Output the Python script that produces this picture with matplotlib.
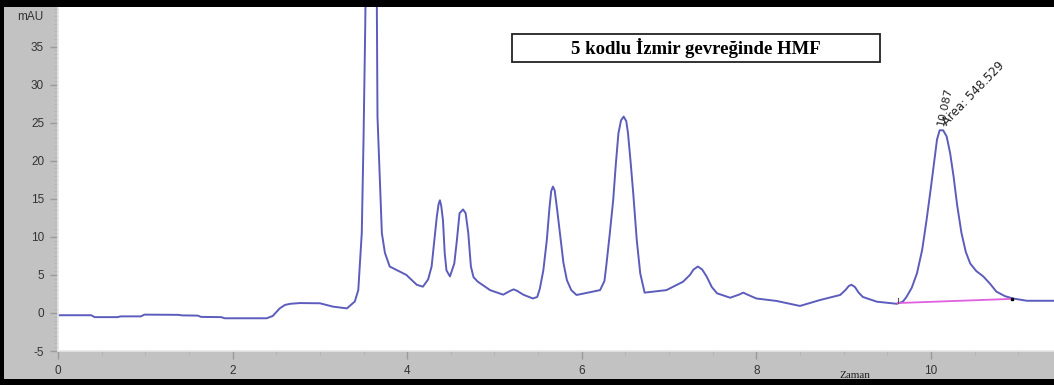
import matplotlib
matplotlib.use('Agg')
import matplotlib.pyplot as plt
from matplotlib.patches import Rectangle
from matplotlib.ticker import MultipleLocator

plt.rcParams['axes.unicode_minus'] = False

# chromatogram trace (time in min, signal in mAU)
zaman = [0.00, 0.38, 0.42, 0.68, 0.72, 0.95, 0.99, 1.38, 1.42, 1.60, 1.64, 1.87, 1.91,
         2.39, 2.46, 2.54, 2.60, 2.66, 2.77, 3.00, 3.15, 3.31, 3.40, 3.44, 3.48, 3.50,
         3.52, 3.54, 3.60, 3.645, 3.66, 3.71, 3.745, 3.80, 3.99, 4.11, 4.18, 4.24, 4.28,
         4.32, 4.34, 4.36, 4.375, 4.39, 4.41, 4.43, 4.45, 4.49, 4.54, 4.57, 4.60, 4.64,
         4.67, 4.70, 4.73, 4.76, 4.81, 4.95, 5.10, 5.18, 5.22, 5.26, 5.33, 5.44, 5.49,
         5.52, 5.56, 5.60, 5.63, 5.65, 5.67, 5.69, 5.72, 5.75, 5.79, 5.83, 5.88, 5.94,
         6.21, 6.26, 6.28, 6.32, 6.36, 6.39, 6.42, 6.45, 6.48, 6.51, 6.53, 6.56, 6.59,
         6.63, 6.67, 6.72, 6.97, 7.16, 7.24, 7.28, 7.33, 7.38, 7.43, 7.49, 7.55, 7.70,
         7.80, 7.85, 7.90, 8.00, 8.23, 8.50, 8.73, 8.96, 9.02, 9.06, 9.09, 9.13, 9.17,
         9.22, 9.38, 9.61, 9.68, 9.72, 9.78, 9.84, 9.90, 9.95, 10.00, 10.03, 10.07,
         10.10, 10.14, 10.18, 10.22, 10.26, 10.30, 10.35, 10.40, 10.45, 10.52, 10.60,
         10.68, 10.75, 10.85, 10.94, 11.10, 11.42]
mau = [-0.30, -0.30, -0.55, -0.55, -0.45, -0.45, -0.22, -0.25, -0.32, -0.35, -0.52, -0.55, -0.70,
       -0.70, -0.40, 0.60, 1.05, 1.20, 1.30, 1.27, 0.83, 0.60, 1.50, 3.0, 10.5, 22.7,
       38.0, 60.0, 70.0, 55.0, 25.8, 10.5, 7.9, 6.1, 5.0, 3.7, 3.45, 4.4, 6.1,
       10.5, 12.7, 14.3, 14.8, 14.1, 12.2, 7.9, 5.6, 4.8, 6.5, 9.6, 13.1, 13.6,
       13.1, 10.5, 6.1, 4.7, 4.1, 3.0, 2.4, 2.9, 3.1, 2.9, 2.4, 1.9, 2.1,
       3.2, 5.6, 9.6, 13.8, 16.0, 16.6, 16.1, 13.4, 10.5, 6.6, 4.3, 3.0, 2.36,
       3.0, 4.2, 6.1, 10.3, 14.8, 19.5, 23.6, 25.3, 25.8, 25.2, 23.6, 19.8, 15.7,
       9.6, 5.2, 2.67, 3.0, 4.1, 5.0, 5.7, 6.1, 5.7, 4.8, 3.4, 2.58, 2.0,
       2.4, 2.67, 2.4, 1.9, 1.58, 0.92, 1.7, 2.36, 3.0, 3.55, 3.7, 3.4, 2.7,
       2.1, 1.48, 1.2, 1.5, 2.1, 3.3, 5.2, 8.3, 12.2, 16.5, 19.2, 22.8,
       24.0, 24.0, 23.2, 21.0, 17.9, 14.2, 10.5, 8.0, 6.5, 5.5, 4.8,
       3.8, 2.8, 2.2, 1.9, 1.6, 1.6]

# integration baseline of the HMF peak
taban_t = [9.62, 10.93]
taban_y = [1.3, 1.85]
pik_t = 10.087
pik_y = 24.3
pik_alan = 548.529

baslik = '5 kodlu İzmir gevreğinde HMF'

W, H = 1054, 385
fig = plt.figure(figsize=(W / 100, H / 100), dpi=100, facecolor='#c2c2c2')

# black frame of the screenshot (top, left, bottom)
for x0, y0, w, h in [(0, H - 7, W, 7), (0, 0, 4, H), (0, 0, W, 6)]:
    fig.patches.append(Rectangle((x0 / W, y0 / H), w / W, h / H, transform=fig.transFigure,
                                 facecolor='black', edgecolor='none', zorder=10))

ax = fig.add_axes([58 / W, (H - 351) / H, (W - 58) / W, (351 - 7) / H])
ax.set_facecolor('white')
ax.plot(zaman, mau, color='#5c5cbc', lw=1.4)
ax.plot(taban_t, taban_y, color='#e060e0', lw=1.3)
ax.plot([taban_t[0], taban_t[0]], [taban_y[0], taban_y[0] + 0.7], color='#555555', lw=0.8)
ax.plot(taban_t[1], taban_y[1], marker='s', ms=2, color='black')

ax.set_xlim(0, 11.41)
ax.set_ylim(-5, 40.2)
ax.set_xticks([0, 2, 4, 6, 8, 10])
ax.set_yticks(range(-5, 40, 5))
ax.xaxis.set_minor_locator(MultipleLocator(0.5))
ax.yaxis.set_minor_locator(MultipleLocator(0.5))
ax.tick_params(which='major', length=6, width=1, color='#9a9a9a', labelsize=8.5,
               labelcolor='#333333', pad=4)
ax.tick_params(which='minor', length=3, width=0.8, color='#b5b5b5')
for lab in ax.get_xticklabels() + ax.get_yticklabels():
    lab.set_family('Liberation Sans')
for s in ['top', 'right']:
    ax.spines[s].set_visible(False)
for s in ['left', 'bottom']:
    ax.spines[s].set_color('#e6e6e6')
    ax.spines[s].set_linewidth(1.2)

fig.text(43 / W, 1 - 17 / H, 'mAU', ha='right', va='center', fontsize=8.5,
         color='#333333', family='Liberation Sans')
fig.text(855 / W, 1 - 375 / H, 'Zaman', ha='center', va='center', fontsize=8,
         color='#222222', family='Liberation Serif')

# title box
fig.patches.append(Rectangle((512 / W, 1 - 62 / H), 368 / W, 28 / H, transform=fig.transFigure,
                             facecolor='white', edgecolor='#222222', lw=1.3, zorder=5))
fig.text(696 / W, 1 - 48 / H, baslik, ha='center', va='center', fontsize=13.5,
         fontweight='bold', family='Liberation Serif', color='black', zorder=6)

# peak annotations
ax.text(pik_t + 0.08, pik_y + 0.2, '%.3f' % pik_t, rotation=78, rotation_mode='anchor',
        ha='left', va='bottom', fontsize=8, color='#222222')
ax.text(pik_t + 0.12, pik_y, 'Area: %.3f' % pik_alan, rotation=46, rotation_mode='anchor',
        ha='left', va='bottom', fontsize=8.5, color='#222222')

fig.savefig('out.png', dpi=100, facecolor=fig.get_facecolor())
